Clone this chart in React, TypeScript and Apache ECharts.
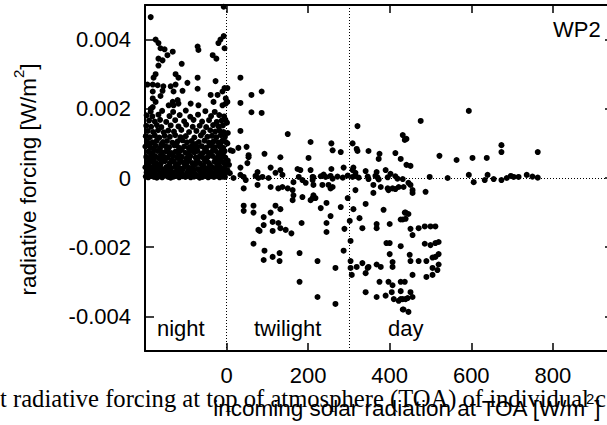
import React, { useEffect, useRef } from "react";
import * as echarts from "echarts";

const xTicks = [0, 200, 400, 600, 800];
const yTicks = [-0.004, -0.002, 0, 0.002, 0.004];
const xRange = [-200, 950];
const yRange = [-0.005, 0.005];
const boundaries = [0, 300];
const regionLabels = ["night", "twilight", "day"];
const panelLabel = "WP2";

const nightSparse: number[][] = [
  [-186, 0.00465], [-7, 0.00495], [-174, 0.004], [-167, 0.0039], [-162, 0.00375], [-152, 0.00372],
  [-145, 0.00355], [-132, 0.00365], [-167, 0.00345], [-157, 0.0034], [-167, 0.00325], [-110, 0.0033],
  [-125, 0.003], [-174, 0.003], [-179, 0.0029], [-71, 0.0038], [-69, 0.0037], [-34, 0.00355],
  [-25, 0.00345], [-20, 0.0039], [-7, 0.0041], [-15, 0.004], [-5, 0.00375], [-118, 0.0029],
  [-71, 0.0029], [-27, 0.0028], [-96, 0.00275], [-194, 0.0027], [-181, 0.0027], [-169, 0.00268],
  [-155, 0.00265], [-137, 0.00265], [-125, 0.0027], [-181, 0.0025], [-157, 0.00252], [-130, 0.0025],
  [-108, 0.00252], [-71, 0.00258], [-162, 0.00237], [-39, 0.0024], [-22, 0.0024], [-10, 0.0025],
  [-5, 0.0026], [-181, 0.0023], [-174, 0.0022], [-132, 0.0022], [-120, 0.00225], [-118, 0.00215],
  [-142, 0.0021], [-130, 0.0021], [-88, 0.00215], [-69, 0.0021], [-32, 0.0022], [-10, 0.0021],
  [-2, 0.00215], [-181, 0.00205], [-186, 0.002], [-2, 0.0023],
];

const nightDense: number[][] = [
  [-198, 0.00004], [-192, 0.00002], [-185, 0.00006], [-178, 0.00003], [-171, 0.00001], [-165, 0.00005],
  [-158, 0.00002], [-150, 0.00007], [-143, 0.00003], [-137, 0.00001], [-130, 0.00004], [-123, 0.00006],
  [-116, 0.00002], [-108, 0.00005], [-101, 0.00003], [-95, 0.00008], [-88, 0.00002], [-80, 0.00004],
  [-73, 0.00006], [-66, 0.00001], [-59, 0.00003], [-52, 0.00007], [-45, 0.00002], [-38, 0.00005],
  [-31, 0.00003], [-24, 0.00006], [-17, 0.00002], [-10, 0.00004], [-4, 0.00003],
  [-196, 0.00016], [-186, 0.00013], [-176, 0.00018], [-163, 0.00014], [-154, 0.00017], [-141, 0.00012],
  [-133, 0.00016], [-119, 0.00019], [-111, 0.00013], [-97, 0.00015], [-86, 0.00018], [-77, 0.00012],
  [-63, 0.00016], [-55, 0.00014], [-42, 0.00019], [-33, 0.00013], [-21, 0.00017], [-12, 0.00014], [-2, 0.00016],
  [-199, 0.00031], [-189, 0.00027], [-180, 0.00033], [-168, 0.00029], [-157, 0.00026], [-147, 0.00032],
  [-136, 0.00028], [-126, 0.00034], [-113, 0.00027], [-104, 0.00031], [-92, 0.00029], [-82, 0.00033],
  [-70, 0.00026], [-60, 0.00031], [-49, 0.00028], [-37, 0.00032], [-28, 0.00027], [-16, 0.00031], [-6, 0.00029],
  [-194, 0.00044], [-183, 0.00048], [-172, 0.00042], [-160, 0.00046], [-151, 0.00049], [-139, 0.00043],
  [-129, 0.00047], [-118, 0.00041], [-106, 0.00045], [-95, 0.00048], [-84, 0.00043], [-74, 0.00046],
  [-65, 0.00042], [-53, 0.00049], [-44, 0.00044], [-30, 0.00047], [-19, 0.00042], [-9, 0.00046],
  [-197, 0.00061], [-187, 0.00058], [-175, 0.00063], [-166, 0.00057], [-154, 0.00062], [-144, 0.00059],
  [-131, 0.00064], [-121, 0.00058], [-110, 0.00061], [-99, 0.00056], [-89, 0.00063], [-76, 0.00059],
  [-67, 0.00062], [-56, 0.00057], [-46, 0.00061], [-35, 0.00064], [-24, 0.00058], [-13, 0.00062], [-3, 0.00059],
  [-192, 0.00076], [-181, 0.00073], [-169, 0.00078], [-158, 0.00074], [-148, 0.00077], [-135, 0.00072],
  [-125, 0.00076], [-114, 0.00079], [-101, 0.00073], [-90, 0.00077], [-79, 0.00074], [-71, 0.00078],
  [-58, 0.00072], [-48, 0.00076], [-39, 0.00073], [-27, 0.00078], [-15, 0.00074], [-5, 0.00077],
  [-199, 0.00091], [-186, 0.00088], [-174, 0.00093], [-163, 0.00087], [-150, 0.00092], [-141, 0.00089],
  [-128, 0.00094], [-117, 0.00088], [-104, 0.00091], [-93, 0.00087], [-85, 0.00093], [-72, 0.00089],
  [-61, 0.00092], [-50, 0.00088], [-41, 0.00094], [-29, 0.00089], [-18, 0.00092], [-8, 0.00087],
  [-195, 0.00106], [-182, 0.00103], [-171, 0.00108], [-156, 0.00104], [-146, 0.00107], [-133, 0.00102],
  [-120, 0.00106], [-108, 0.00109], [-97, 0.00103], [-86, 0.00107], [-68, 0.00104], [-54, 0.00108],
  [-43, 0.00102], [-32, 0.00106], [-21, 0.00103], [-10, 0.00108], [-2, 0.00104],
  [-198, 0.00121], [-188, 0.00118], [-176, 0.00123], [-165, 0.00117], [-152, 0.00122], [-139, 0.00119],
  [-126, 0.00124], [-113, 0.00118], [-100, 0.00121], [-79, 0.00117], [-63, 0.00123], [-47, 0.00119],
  [-36, 0.00122], [-25, 0.00118], [-14, 0.00124], [-4, 0.00119],
  [-193, 0.00136], [-180, 0.00133], [-168, 0.00138], [-154, 0.00132], [-143, 0.00137], [-129, 0.00134],
  [-111, 0.00139], [-92, 0.00133], [-74, 0.00136], [-57, 0.00132], [-40, 0.00138], [-28, 0.00134],
  [-17, 0.00137], [-7, 0.00133],
  [-197, 0.00151], [-185, 0.00148], [-171, 0.00153], [-160, 0.00147], [-137, 0.00152], [-118, 0.00149],
  [-99, 0.00154], [-83, 0.00148], [-66, 0.00151], [-50, 0.00147], [-33, 0.00153], [-20, 0.00149], [-9, 0.00152],
  [-190, 0.00166], [-176, 0.00163], [-163, 0.00168], [-148, 0.00162], [-126, 0.00167], [-104, 0.00164],
  [-81, 0.00168], [-60, 0.00163], [-43, 0.00167], [-24, 0.00162], [-12, 0.00166], [-3, 0.00169],
  [-196, 0.00181], [-182, 0.00178], [-167, 0.00183], [-140, 0.00179], [-115, 0.00182], [-89, 0.00177],
  [-70, 0.00183], [-38, 0.00179], [-18, 0.00182], [-6, 0.00178],
  [-186, 0.00192], [-158, 0.00194], [-131, 0.00191], [-100, 0.00195], [-52, 0.00193], [-29, 0.00191],
];

const nightFill: number[][] = [
  [-189, 0.00009], [-174, 0.0001], [-161, 0.00008], [-147, 0.00011], [-134, 0.00009], [-120, 0.0001],
  [-105, 0.00008], [-91, 0.00011], [-76, 0.00009], [-62, 0.0001], [-48, 0.00008], [-35, 0.00011],
  [-20, 0.00009], [-7, 0.0001],
  [-193, 0.00023], [-181, 0.00022], [-170, 0.00024], [-150, 0.00021], [-139, 0.00023], [-122, 0.00022],
  [-108, 0.00024], [-94, 0.00021], [-80, 0.00023], [-66, 0.00022], [-52, 0.00024], [-40, 0.00021],
  [-25, 0.00023], [-10, 0.00022],
  [-192, 0.00038], [-176, 0.00037], [-162, 0.00039], [-141, 0.00036], [-121, 0.00038], [-98, 0.00037],
  [-77, 0.00039], [-57, 0.00036], [-41, 0.00038], [-23, 0.00037], [-3, 0.00039],
  [-190, 0.00053], [-178, 0.00052], [-156, 0.00054], [-134, 0.00052], [-114, 0.00053], [-92, 0.00054],
  [-71, 0.00052], [-50, 0.00053], [-27, 0.00054], [-16, 0.00052],
  [-185, 0.00068], [-161, 0.00067], [-139, 0.00069], [-117, 0.00067], [-94, 0.00068], [-62, 0.00069],
  [-42, 0.00067], [-20, 0.00068], [-9, 0.00066],
  [-178, 0.00083], [-143, 0.00084], [-110, 0.00082], [-82, 0.00083], [-53, 0.00084], [-33, 0.00082], [-12, 0.00083],
  [-190, 0.00098], [-160, 0.00097], [-123, 0.00099], [-77, 0.00098], [-37, 0.00097], [-15, 0.00099],
];

const twilightPoints: number[][] = [
  [2, 0.0026], [2, 0.0022], [1, 0.0016], [3, 0.0013], [2, 0.001], [3, 0.0005], [6, 0.00038], [2, 0.00023], [8, 0.00014],
  [34, 0.0029], [86, 0.0025], [61, 0.0024], [34, 0.00217], [61, 0.0019], [86, 0.00188], [34, 0.00136],
  [150, 0.00127], [206, 0.00104], [10, 0.0008], [15, 0.00078], [29, 0.00087], [49, 0.0009], [54, 0.00066],
  [54, 0.0006], [93, 0.0007], [132, 0.0006], [201, 0.00058], [34, 0.0003], [51, 0.00043], [17, 0],
  [34, 0.00009], [42, 0.00003], [47, -0.00006], [42, -0.0003], [76, 0.00017], [71, 0.00006], [78, 0],
  [88, 0.00003], [76, -0.0002], [103, 0], [108, 0.0003], [120, 0.00015], [132, 0.00023], [137, 0.00009],
  [108, -0.00026], [127, -0.0003], [137, -0.00026], [150, -0.0003], [162, -0.00035], [164, -0.00012],
  [174, 0.00026], [181, 0.00023], [177, 0.00003], [186, -0.00006], [194, -0.00014], [206, 0.00023],
  [211, -0.00006], [213, -0.0002], [211, 0.00003], [164, -0.0005], [162, -0.00064], [186, -0.00055],
  [211, -0.00058], [213, -0.0005], [42, -0.0008], [42, -0.00095], [66, -0.0008], [66, -0.001],
  [120, -0.0008], [132, -0.0009], [91, -0.00113], [108, -0.001], [113, -0.00127], [127, -0.0013],
  [91, -0.00136], [132, -0.00145], [145, -0.0015], [159, -0.0016], [113, -0.00153], [81, -0.00153],
  [78, -0.0015], [184, -0.0013], [66, -0.0019], [93, -0.0021], [91, -0.00237], [113, -0.00228],
  [130, -0.00217], [130, -0.0024], [179, -0.00217], [179, -0.003],
  [257, 0.001], [260, 0.0008], [280, 0.00075], [257, 0.00026], [287, 0.0003], [213, 0.00002],
  [231, 0.00005], [238, 0.0001], [243, 0.00003], [255, 0.00006], [260, -0.00002], [272, 0.00004],
  [285, 0.00001], [297, 0.00007], [235, -0.0002], [250, -0.0002], [260, -0.00026], [255, -0.0003],
  [218, -0.00058], [206, -0.00064], [297, -0.00058], [231, -0.00087], [245, -0.00072], [280, -0.00084],
  [255, -0.0011], [245, -0.0013], [245, -0.00156], [289, -0.00147], [287, -0.0021], [223, -0.0024],
  [267, -0.0026], [223, -0.00344], [267, -0.00364],
];

const dayPoints: number[][] = [
  [321, 0.0015], [432, 0.00124], [437, 0.0011], [309, 0.001], [319, 0.00084], [321, 0.00078],
  [348, 0.00078], [375, 0.0007], [373, 0.00055], [414, 0.00072], [427, 0.00055], [309, 0.00023],
  [311, 0.0003], [316, 0.00015], [341, 0.0002], [368, 0.00017], [390, 0.00023], [402, 0.00012],
  [309, 0.00003], [316, 0.00006], [324, 0.00001], [346, 0.00004], [348, -0.00003], [365, 0.00006],
  [370, 0.00002], [373, -0.00004], [395, 0.00002], [414, 0.00005], [419, -0.00002], [432, -0.00003],
  [360, -0.0002], [378, -0.00026], [395, -0.0003], [397, -0.00035], [407, -0.0003], [414, -0.00032],
  [422, -0.00026], [434, -0.00026], [316, -0.00035], [360, -0.00043],
  [311, -0.0009], [341, -0.00075], [326, -0.00116], [385, -0.00092], [302, -0.00124], [333, -0.00145],
  [368, -0.00133], [368, -0.00145], [400, -0.00133], [427, -0.0012], [437, -0.001],
  [304, -0.00182], [392, -0.00188], [400, -0.00188], [427, -0.00197], [400, -0.0022], [407, -0.00243],
  [304, -0.0024], [304, -0.0026], [307, -0.0028], [319, -0.00257], [333, -0.00246], [348, -0.00257],
  [346, -0.0026], [341, -0.00275], [368, -0.0025], [378, -0.00257], [407, -0.00257],
  [375, -0.003], [397, -0.003], [407, -0.0031], [427, -0.003], [405, -0.0033], [390, -0.0034],
  [427, -0.00327], [437, -0.003], [341, -0.0033], [368, -0.00344], [410, -0.0035], [422, -0.00355],
  [432, -0.0035], [434, -0.0038],
  [594, 0.00194], [476, 0.00165], [441, 0.00113], [674, 0.00095], [674, 0.00075], [763, 0.00075],
  [522, 0.00064], [564, 0.00052], [603, 0.00058], [638, 0.00058], [441, 0.00038], [451, 0.00035],
  [498, 0.00003], [542, 0], [594, 0.00009], [606, -0.00012], [633, -0.00006], [640, 0.00009],
  [655, -0.00003], [674, -0.00006], [687, 0], [697, 0.00006], [704, 0.00003], [716, 0.00003],
  [736, 0.00009], [750, 0.00004], [763, 0.00001],
  [446, -0.00014], [451, -0.0002], [456, -0.00035], [456, -0.00043], [488, -0.0004],
  [439, -0.001], [446, -0.00104], [432, -0.0012], [439, -0.00118],
  [451, -0.00147], [456, -0.00165], [471, -0.00145], [486, -0.0014], [500, -0.0014], [512, -0.0014],
  [486, -0.0019], [500, -0.00194], [512, -0.00188], [520, -0.00185],
  [449, -0.00222], [451, -0.0024], [471, -0.0024], [490, -0.0024], [505, -0.0023], [512, -0.00228], [520, -0.0022],
  [520, -0.0025], [517, -0.00266], [505, -0.0026], [505, -0.0028], [490, -0.00286], [456, -0.0028],
  [451, -0.0033], [456, -0.00344], [439, -0.0035], [444, -0.00347], [427, -0.0035], [432, -0.0038], [446, -0.00387],
];

const SANS = "Liberation Sans, Arial, Helvetica, sans-serif";
const SERIF = "Liberation Serif, Times New Roman, serif";

function txt(text: string, x: number, y: number, align = "left", extra: any = {}) {
  return {
    type: "text",
    x,
    y,
    z: 10,
    ...extra,
    style: {
      text,
      fill: "#000",
      fontSize: 22,
      fontFamily: SANS,
      align,
      textAlign: align,
      verticalAlign: "middle",
      textVerticalAlign: "middle",
      ...(extra.style || {}),
    },
  };
}

export default function App() {
  const ref = useRef<HTMLDivElement>(null);
  useEffect(() => {
    if (!ref.current) return;
    const chart = echarts.init(ref.current, undefined, { renderer: "svg" });
    const axisLine = { show: true, onZero: false, lineStyle: { color: "#000", width: 2 } };
    const tickStyle = { color: "#000", width: 1.5 };
    const supRich = {
      a: { fontSize: 22.5, fontFamily: SANS, fill: "#000" },
      b: { fontSize: 15, fontFamily: SANS, fill: "#000", padding: [0, 0, 20, 0] },
    };
    const option: any = {
      animation: false,
      grid: { left: 145, top: 5, width: 469, height: 346 },
      xAxis: [
        {
          type: "value", min: xRange[0], max: xRange[1], position: "bottom",
          axisLine, splitLine: { show: false },
          axisTick: { show: true, inside: true, length: 8, customValues: xTicks, lineStyle: tickStyle },
          axisLabel: { show: true, customValues: xTicks, fontSize: 22, fontFamily: SANS, color: "#000", margin: 13 },
        },
        {
          type: "value", min: xRange[0], max: xRange[1], position: "top",
          axisLine, splitLine: { show: false },
          axisTick: { show: true, inside: true, length: 8, customValues: xTicks, lineStyle: tickStyle },
          axisLabel: { show: false },
        },
      ],
      yAxis: [
        {
          type: "value", min: yRange[0], max: yRange[1], position: "left",
          axisLine, splitLine: { show: false },
          axisTick: { show: true, inside: true, length: 9, customValues: yTicks, lineStyle: tickStyle },
          axisLabel: { show: true, customValues: yTicks, fontSize: 22, fontFamily: SANS, color: "#000", margin: 14 },
        },
        {
          type: "value", min: yRange[0], max: yRange[1], position: "right",
          axisLine, splitLine: { show: false },
          axisTick: { show: true, inside: true, length: 9, customValues: yTicks, lineStyle: tickStyle },
          axisLabel: { show: false },
        },
      ],
      series: [
        {
          type: "scatter", data: [], z: 1, xAxisIndex: 0, yAxisIndex: 0,
          markLine: {
            silent: true, symbol: "none", label: { show: false },
            lineStyle: { color: "#000", type: [1, 2], width: 1 },
            data: [{ xAxis: boundaries[0] }, { xAxis: boundaries[1] }, { yAxis: 0 }],
          },
        },
        ...[nightDense, nightFill, nightSparse, twilightPoints, dayPoints].map((d) => ({
          type: "scatter", data: d, z: 2, xAxisIndex: 0, yAxisIndex: 0,
          symbol: "circle", symbolSize: 6, itemStyle: { color: "#000", opacity: 1 },
        })),
      ],
      graphic: [
        txt(regionLabels[0], 157, 328.5),
        txt(regionLabels[1], 254, 328.5),
        txt(regionLabels[2], 388, 328.5),
        txt(panelLabel, 553, 29.5),
        txt("t radiative forcing at top of atmosphere (TOA) of individual c", 0, 398, "left", {
          style: { fontFamily: SERIF, fontSize: 24.6 },
        }),
        txt("", 406.5, 408, "center", {
          style: { text: "{a|incoming solar radiation at TOA [W/m}{b|2}{a|]}", rich: supRich },
        }),
        txt("", 28.5, 179.5, "center", {
          rotation: Math.PI / 2,
          style: { text: "{a|radiative forcing [W/m}{b|2}{a|]}", rich: supRich },
        }),
      ],
    };
    chart.setOption(option);
    return () => chart.dispose();
  }, []);
  return (
    <div style={{ position: "absolute", left: 0, top: 0, width: 607, height: 425, overflow: "hidden", background: "#fff" }}>
      <div ref={ref} style={{ width: 640, height: 425 }} />
    </div>
  );
}
